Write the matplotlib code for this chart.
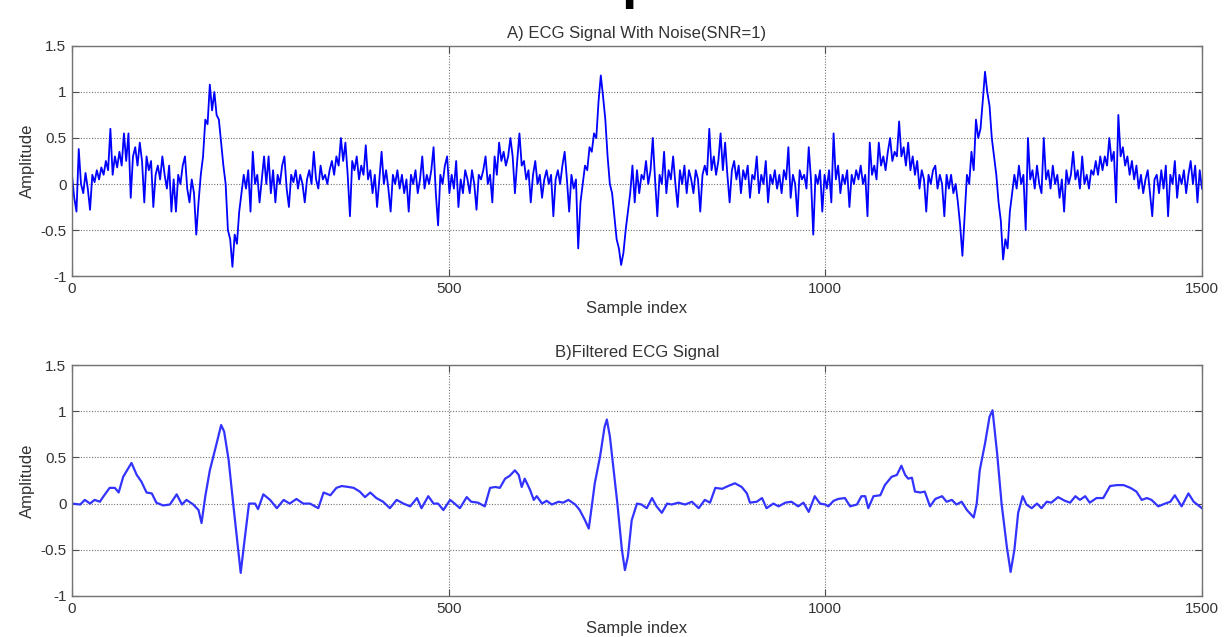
import numpy as np
import matplotlib.pyplot as plt

plt.rcParams['font.family'] = ['Liberation Sans', 'DejaVu Sans']

# noisy ECG, one value every 3 samples (0..1500)
noisy_step = 3
noisy_amp = [
    0.10, -0.15, -0.30, 0.38, 0.00, -0.10, 0.12, -0.05, -0.28, 0.10, 0.02, 0.15, 0.05, 0.18, 0.10, 0.25, 0.15, 0.60, 0.10, 0.30, 0.18, 0.35, 0.20, 0.55, 0.25,
    0.55, -0.15, 0.30, 0.40, 0.20, 0.45, 0.25, -0.20, 0.30, 0.15, 0.25, -0.25, 0.10, 0.20, 0.05, 0.30, 0.10, -0.05, 0.20, -0.30, 0.05, -0.30, 0.10, 0.00, 0.20,
    0.30, -0.05, -0.20, 0.05, -0.10, -0.55, -0.20, 0.10, 0.30, 0.70, 0.65, 1.08, 0.80, 1.00, 0.75, 0.70, 0.45, 0.20, 0.00, -0.50, -0.60, -0.90, -0.55, -0.65, -0.30,
    -0.10, 0.10, -0.05, 0.15, -0.30, 0.35, 0.00, 0.10, -0.20, 0.05, 0.30, 0.00, 0.30, -0.10, 0.15, -0.20, 0.10, 0.00, 0.20, 0.30, -0.05, -0.25, 0.10, 0.02, 0.15,
    -0.05, 0.10, 0.00, -0.20, 0.05, 0.15, 0.00, 0.35, 0.05, -0.05, 0.20, 0.05, 0.10, 0.00, 0.15, 0.25, 0.10, 0.30, 0.20, 0.50, 0.25, 0.45, 0.10, -0.35, 0.25,
    0.15, 0.30, 0.05, 0.20, 0.10, 0.42, 0.05, 0.15, -0.10, 0.10, -0.25, 0.05, 0.35, 0.00, 0.15, -0.05, -0.30, 0.10, 0.00, 0.15, -0.05, 0.10, -0.10, 0.05, -0.30,
    0.10, 0.00, 0.15, -0.10, 0.05, 0.30, -0.05, 0.10, 0.00, 0.15, 0.40, -0.10, -0.45, 0.10, 0.00, 0.20, 0.30, -0.10, 0.10, -0.05, 0.25, -0.25, 0.05, -0.10, 0.15,
    0.05, -0.10, 0.15, 0.00, -0.28, 0.10, 0.05, 0.15, 0.30, 0.00, 0.10, -0.20, 0.30, 0.10, 0.45, 0.25, 0.35, 0.20, 0.30, 0.50, 0.30, -0.10, 0.25, 0.55, 0.20,
    0.25, 0.05, 0.15, -0.20, 0.10, 0.25, 0.00, 0.10, -0.15, 0.05, 0.15, 0.00, 0.10, -0.35, 0.05, 0.15, 0.00, 0.20, 0.35, 0.05, -0.30, 0.10, -0.05, 0.05, -0.70,
    -0.20, 0.00, 0.20, 0.15, 0.40, 0.35, 0.55, 0.50, 0.90, 1.18, 0.95, 0.70, 0.30, 0.00, -0.10, -0.35, -0.60, -0.70, -0.88, -0.75, -0.50, -0.30, -0.10, 0.20, -0.20,
    0.15, -0.10, 0.10, 0.05, 0.25, 0.00, 0.15, 0.50, 0.05, -0.35, 0.10, 0.00, 0.35, -0.10, 0.15, 0.05, 0.30, 0.00, -0.25, 0.15, 0.00, 0.20, -0.10, 0.15, 0.05,
    -0.10, 0.15, 0.05, -0.30, 0.10, 0.20, 0.10, 0.60, 0.15, 0.30, 0.10, 0.25, 0.55, 0.15, 0.45, 0.10, -0.20, 0.15, 0.25, 0.05, 0.20, -0.10, 0.15, 0.05, 0.20,
    -0.15, 0.10, 0.05, 0.30, -0.10, 0.10, 0.00, 0.25, -0.20, 0.10, 0.00, 0.15, -0.05, 0.10, -0.10, 0.15, 0.05, 0.40, -0.15, 0.10, 0.00, -0.35, 0.15, 0.05, 0.10,
    -0.05, 0.40, 0.05, -0.55, 0.10, 0.00, 0.15, -0.30, 0.10, -0.05, 0.15, -0.20, 0.55, 0.05, 0.20, -0.10, 0.10, 0.00, 0.15, -0.25, 0.10, 0.00, 0.15, 0.05, 0.20,
    0.00, 0.10, -0.35, 0.45, 0.10, 0.20, 0.05, 0.45, 0.20, 0.30, 0.15, 0.35, 0.50, 0.25, 0.35, 0.30, 0.68, 0.30, 0.40, 0.20, 0.45, 0.15, 0.30, 0.10, 0.25,
    -0.05, 0.15, 0.05, -0.30, 0.10, 0.00, 0.15, 0.20, -0.05, 0.10, 0.00, -0.35, 0.10, -0.05, 0.10, -0.10, 0.00, -0.20, -0.45, -0.78, -0.35, 0.10, 0.00, 0.35, 0.15,
    0.70, 0.50, 0.60, 0.90, 1.22, 1.00, 0.85, 0.50, 0.30, 0.10, -0.20, -0.40, -0.82, -0.60, -0.70, -0.30, -0.10, 0.10, -0.05, 0.20, 0.00, 0.10, -0.50, 0.50, 0.05,
    0.15, -0.05, 0.20, 0.00, -0.10, 0.50, 0.05, 0.15, -0.05, 0.20, 0.00, 0.10, -0.15, 0.05, -0.30, 0.15, 0.00, 0.10, 0.35, 0.05, 0.15, -0.05, 0.30, 0.00, 0.10,
    -0.05, 0.15, 0.10, 0.25, 0.10, 0.30, 0.15, 0.30, 0.20, 0.50, 0.25, 0.35, -0.20, 0.75, 0.30, 0.40, 0.20, 0.30, 0.10, 0.25, 0.05, 0.20, -0.05, 0.10, -0.10,
    0.05, 0.15, -0.10, -0.35, 0.05, 0.10, -0.10, 0.15, -0.05, 0.20, -0.35, 0.10, 0.00, 0.25, -0.15, 0.10, 0.00, 0.15, -0.10, 0.10, 0.25, 0.00, 0.20, -0.20, 0.15,
    -0.05,
]
noisy_idx = np.arange(len(noisy_amp)) * noisy_step

# filtered ECG, points
filt_idx = [
    0, 11, 17, 24, 30, 37, 42, 50, 57, 62,
    68, 79, 86, 92, 99, 106, 112, 121, 130, 139,
    146, 152, 161, 168, 172, 177, 183, 192, 198, 202,
    208, 214, 224, 228, 235, 243, 247, 254, 263, 272,
    281, 289, 298, 307, 316, 327, 334, 343, 351, 358,
    367, 374, 382, 389, 396, 404, 413, 422, 431, 440,
    449, 458, 464, 473, 480, 486, 493, 502, 508, 515,
    524, 530, 539, 548, 555, 562, 568, 575, 581, 588,
    593, 597, 601, 608, 613, 617, 624, 630, 637, 646,
    652, 659, 668, 674, 681, 686, 690, 694, 701, 707,
    710, 714, 719, 724, 730, 734, 738, 743, 750, 756,
    763, 770, 776, 783, 790, 796, 805, 814, 823, 832,
    840, 847, 854, 863, 871, 880, 889, 896, 900, 909,
    916, 922, 931, 938, 947, 955, 964, 971, 978, 986,
    993, 1000, 1004, 1011, 1017, 1026, 1033, 1042, 1048, 1053,
    1057, 1064, 1073, 1079, 1088, 1095, 1101, 1106, 1110, 1115,
    1119, 1126, 1132, 1139, 1146, 1155, 1161, 1168, 1174, 1181,
    1188, 1197, 1201, 1205, 1212, 1218, 1222, 1228, 1234, 1241,
    1246, 1251, 1256, 1262, 1267, 1274, 1281, 1287, 1294, 1300,
    1309, 1318, 1325, 1332, 1338, 1345, 1351, 1360, 1369, 1378,
    1387, 1396, 1405, 1413, 1420, 1427, 1433, 1442, 1451, 1458,
    1464, 1473, 1482, 1489, 1500,
]
filt_amp = [
    0.00, -0.01, 0.04, 0.00, 0.04, 0.02, 0.08, 0.17, 0.17, 0.12,
    0.29, 0.44, 0.31, 0.24, 0.12, 0.11, 0.01, -0.02, -0.01, 0.10,
    -0.01, 0.04, -0.01, -0.07, -0.21, 0.08, 0.36, 0.65, 0.85, 0.78,
    0.47, 0.00, -0.75, -0.47, 0.00, 0.00, -0.06, 0.10, 0.04, -0.05,
    0.04, 0.00, 0.05, 0.00, 0.00, -0.05, 0.12, 0.09, 0.17, 0.19,
    0.18, 0.17, 0.13, 0.07, 0.12, 0.06, 0.02, -0.05, 0.04, 0.00,
    -0.03, 0.06, -0.05, 0.08, 0.00, 0.00, -0.07, 0.04, 0.00, -0.05,
    0.07, 0.02, 0.01, -0.03, 0.17, 0.18, 0.17, 0.27, 0.30, 0.36,
    0.31, 0.18, 0.27, 0.15, 0.04, 0.08, 0.00, 0.03, -0.01, 0.02,
    0.01, 0.04, -0.01, -0.07, -0.18, -0.27, -0.03, 0.22, 0.51, 0.83,
    0.91, 0.73, 0.36, 0.00, -0.50, -0.72, -0.57, -0.18, 0.00, -0.01,
    -0.05, 0.06, -0.03, -0.10, 0.00, -0.01, 0.01, -0.01, 0.02, -0.05,
    0.04, 0.01, 0.17, 0.16, 0.19, 0.22, 0.18, 0.11, 0.01, 0.02,
    0.06, -0.05, 0.00, -0.03, 0.01, 0.02, -0.03, 0.01, -0.09, 0.08,
    0.00, -0.01, -0.03, 0.03, 0.05, 0.06, -0.03, -0.01, 0.08, 0.08,
    -0.05, 0.08, 0.09, 0.20, 0.29, 0.31, 0.41, 0.31, 0.27, 0.28,
    0.13, 0.12, 0.13, -0.03, 0.05, 0.08, 0.02, 0.04, -0.01, 0.02,
    -0.07, -0.15, 0.00, 0.36, 0.65, 0.94, 1.01, 0.55, 0.00, -0.47,
    -0.74, -0.50, -0.10, 0.08, -0.01, -0.05, 0.00, -0.05, 0.02, 0.01,
    0.07, 0.03, 0.01, 0.08, 0.04, 0.08, 0.01, 0.06, 0.06, 0.19,
    0.20, 0.20, 0.17, 0.13, 0.04, 0.06, 0.04, -0.03, 0.00, 0.02,
    0.09, -0.03, 0.11, 0.02, -0.05,
]

xticks = [0, 500, 1000, 1500]
yticks = [-1, -0.5, 0, 0.5, 1, 1.5]

fig = plt.figure(figsize=(12.26, 6.37), dpi=100)

def style(ax, title):
    ax.set_xlim(0, 1500)
    ax.set_ylim(-1, 1.5)
    ax.set_xticks(xticks)
    ax.set_yticks(yticks)
    ax.set_yticklabels(['-1', '-0.5', '0', '0.5', '1', '1.5'])
    ax.tick_params(direction='in', top=True, right=True, length=5, labelsize=11,
                   colors='0.3', labelcolor='0.2', pad=4)
    ax.grid(True, color='0.45', linestyle=(0, (1, 1.5)), linewidth=0.8)
    for s in ax.spines.values():
        s.set_color('0.45')
        s.set_linewidth(1.0)
    ax.set_xlabel('Sample index', fontsize=12, color='0.2', labelpad=4)
    ax.set_ylabel('Amplitude', fontsize=12, color='0.2', labelpad=4)
    ax.set_title(title, fontsize=12, color='0.2', pad=6)

ax1 = fig.add_axes([0.0587, 0.5667, 0.9217, 0.3611])
ax1.plot(noisy_idx, noisy_amp, color='#0000ff', linewidth=1.3)
style(ax1, 'A) ECG Signal With Noise(SNR=1)')

ax2 = fig.add_axes([0.0587, 0.0644, 0.9217, 0.3626])
ax2.plot(filt_idx, filt_amp, color='#3333ff', linewidth=1.6)
style(ax2, 'B)Filtered ECG Signal')

# main title cut off by the top edge of the image (only a descender shows)
fig.text(0.5065, 1.0 + 3 / 637, 'p', fontsize=40, fontweight='bold', ha='left', va='baseline')

plt.savefig('out.png', dpi=100)
